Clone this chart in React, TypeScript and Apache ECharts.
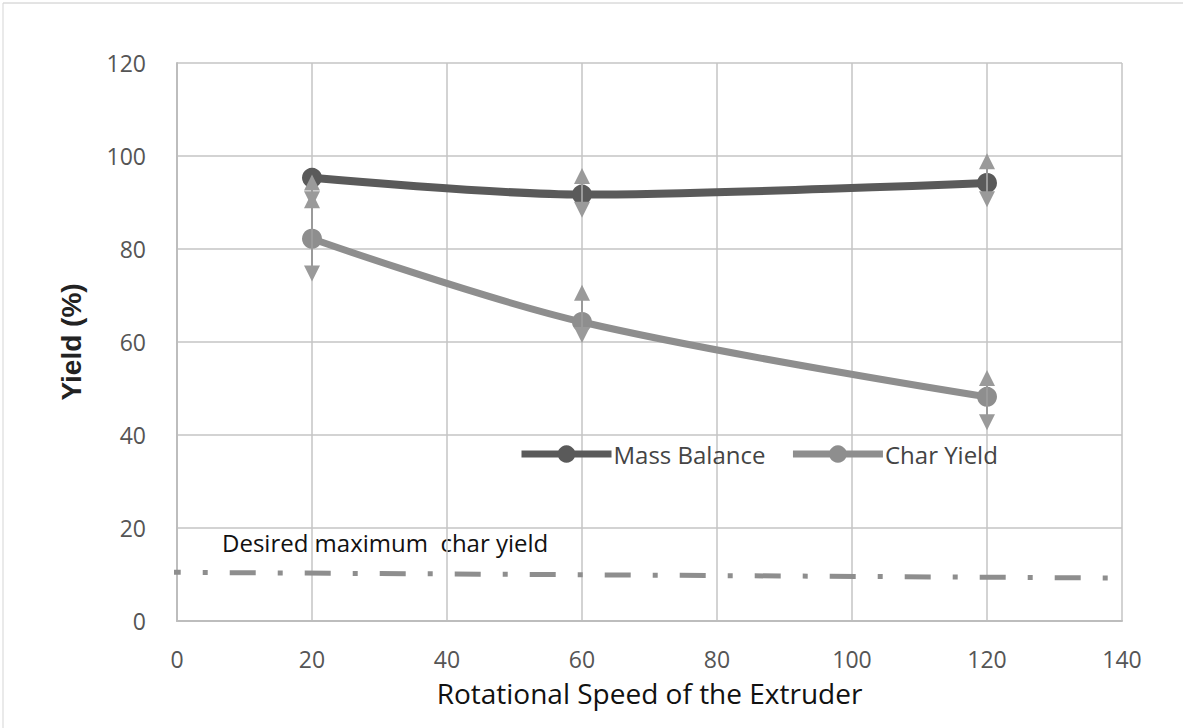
import React, { useEffect, useRef } from "react";
import * as echarts from "echarts";

const speeds = [20, 60, 120];
const massBalance = [95.3, 91.7, 94.2];
const massLow = [89, 86.7, 89];
const massHigh = [96, 97.4, 100.6];
const charYield = [82.2, 64.3, 48.2];
const charLow = [73, 59.8, 41];
const charHigh = [92.2, 72.3, 54];
const desiredLineX = [-3.3, 143.9];
const desiredLineY = [10.5, 9.2];
const xTicks = { min: 0, max: 140, interval: 20 };
const yTicks = { min: 0, max: 120, interval: 20 };

export default function App() {
  const ref = useRef<HTMLDivElement>(null);
  useEffect(() => {
    if (!ref.current) return;
    const chart = echarts.init(ref.current, undefined, { renderer: "svg" });
    const errData = [
      ...speeds.map((s, i) => [s, massLow[i], massHigh[i]]),
      ...speeds.map((s, i) => [s, charLow[i], charHigh[i]]),
    ];
    const errColor = "#9a9a9a";
    chart.setOption({
      animation: false,
      backgroundColor: "#ffffff",
      grid: { left: 177, right: 61, top: 63, bottom: 107 },
      xAxis: {
        type: "value",
        min: xTicks.min,
        max: xTicks.max,
        interval: xTicks.interval,
        name: "Rotational Speed of the Extruder",
        nameLocation: "middle",
        nameGap: 58,
        nameTextStyle: { fontFamily: "Open Sans", fontSize: 28, color: "#111" },
        axisLine: { show: true, lineStyle: { color: "#bdbdbd", width: 2 } },
        axisTick: { show: false },
        axisLabel: { margin: 26, fontFamily: "Open Sans", fontSize: 23, color: "#555" },
        splitLine: { show: true, lineStyle: { color: "#c4c4c4", width: 1.5 } },
      },
      yAxis: {
        type: "value",
        min: yTicks.min,
        max: yTicks.max,
        interval: yTicks.interval,
        name: "Yield (%)",
        nameLocation: "middle",
        nameGap: 92,
        nameTextStyle: { fontFamily: "Liberation Sans", fontWeight: "bold", fontSize: 28, color: "#222" },
        axisLine: { show: true, lineStyle: { color: "#bdbdbd", width: 2 } },
        axisTick: { show: false },
        axisLabel: { margin: 31, fontFamily: "Open Sans", fontSize: 23, color: "#555" },
        splitLine: { show: true, lineStyle: { color: "#c4c4c4", width: 1.5 } },
      },
      legend: {
        left: 513,
        top: 437,
        itemWidth: 90,
        itemHeight: 22,
        itemGap: 24,
        lineStyle: { width: 7 },
        textStyle: { fontFamily: "Open Sans", fontSize: 24, color: "#444", padding: [0, 0, 0, -3] },
        data: ["Mass Balance", "Char Yield"],
      },
      graphic: [
        {
          type: "text",
          left: 222,
          top: 530,
          style: { text: "Desired maximum  char yield", fontFamily: "Open Sans", fontSize: 24, fill: "#111" },
        },
        { type: "line", shape: { x1: 3, y1: 3, x2: 1183, y2: 3 }, style: { stroke: "#c8c8c8", lineWidth: 1 } },
        { type: "line", shape: { x1: 3, y1: 3, x2: 3, y2: 728 }, style: { stroke: "#d5d5d5", lineWidth: 1 } },
      ],
      series: [
        {
          name: "Desired",
          type: "line",
          data: desiredLineX.map((x, i) => [x, desiredLineY[i]]),
          showSymbol: false,
          symbol: "none",
          clip: false,
          lineStyle: { color: "#8e8e8e", width: 5, type: [26, 22, 5, 22] },
          silent: true,
          z: 2,
        },
        {
          name: "Mass Balance",
          type: "line",
          data: speeds.map((s, i) => [s, massBalance[i]]),
          smooth: 0.3,
          symbol: "circle",
          symbolSize: 20,
          itemStyle: { color: "#5a5a5a" },
          lineStyle: { color: "#5a5a5a", width: 8 },
          z: 3,
        },
        {
          name: "Char Yield",
          type: "line",
          data: speeds.map((s, i) => [s, charYield[i]]),
          smooth: 0.35,
          symbol: "circle",
          symbolSize: 20,
          itemStyle: { color: "#8e8e8e" },
          lineStyle: { color: "#8e8e8e", width: 7 },
          z: 3,
        },
        {
          name: "Errors",
          type: "custom",
          z: 4,
          silent: true,
          data: errData,
          encode: { x: 0, y: [1, 2] },
          renderItem: (params: any, api: any) => {
            const x = api.value(0);
            const lo = api.coord([x, api.value(1)]);
            const hi = api.coord([x, api.value(2)]);
            const w = 8;
            const h = 16;
            return {
              type: "group",
              children: [
                {
                  type: "line",
                  shape: { x1: lo[0], y1: lo[1] - 2, x2: hi[0], y2: hi[1] + 2 },
                  style: { stroke: errColor, lineWidth: 2 },
                },
                {
                  type: "polygon",
                  shape: { points: [[hi[0], hi[1]], [hi[0] - w, hi[1] + h], [hi[0] + w, hi[1] + h]] },
                  style: { fill: errColor },
                },
                {
                  type: "polygon",
                  shape: { points: [[lo[0], lo[1]], [lo[0] - w, lo[1] - h], [lo[0] + w, lo[1] - h]] },
                  style: { fill: errColor },
                },
              ],
            };
          },
        },
      ],
    });
    return () => chart.dispose();
  }, []);
  return (
    <div
      ref={ref}
      style={{ position: "absolute", left: 0, top: 0, width: 1183, height: 728 }}
    />
  );
}
